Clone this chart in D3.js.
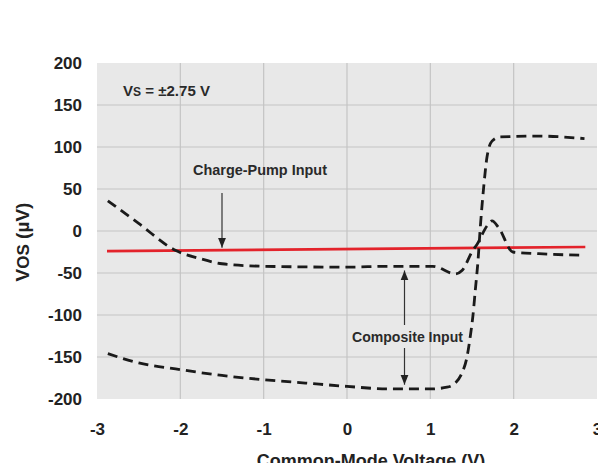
<!DOCTYPE html>
<html>
<head>
<meta charset="utf-8">
<script src="https://cdn.jsdelivr.net/npm/d3@7"></script>
<style>
  html, body { margin: 0; padding: 0; background: #fff; }
  svg { display: block; }
  text { font-family: "Liberation Sans", Arial, Helvetica, sans-serif; font-weight: bold; fill: #222; }
  .note { font-family: "Liberation Sans", Arial, sans-serif; fill: #2a2a2a; }
</style>
</head>
<body>
<svg id="chart" width="598" height="463"></svg>
<script>
// Offset voltage vs. common-mode voltage, Vs = ±2.75 V
const xTicks = [-3, -2, -1, 0, 1, 2, 3];
const yTicks = [-200, -150, -100, -50, 0, 50, 100, 150, 200];

// Charge-pump input (solid red)
const chargePumpX = [-2.88, 2.86];
const chargePumpY = [-24, -19];

// Composite input, upper branch (dashed)
const compUpperX = [-2.87, -2.5, -2.06, -1.76, -1.5, -1.0, 0.0, 0.5, 1.03, 1.30, 1.38, 1.51, 1.56, 1.68, 1.74, 1.82, 1.99, 2.3, 2.85];
const compUpperY = [36, 9, -23, -33, -39, -42, -43, -42, -42, -51, -47, -23, -16, 6, 12, 4, -25, -27, -29];

// Composite input, lower branch (dashed)
const compLowerX = [-2.87, -2.5, -2.0, -1.5, -1.0, -0.5, 0.0, 0.5, 1.0, 1.2, 1.3, 1.38, 1.44, 1.48, 1.51, 1.54, 1.57, 1.60, 1.64, 1.68, 1.74, 1.84, 2.3, 2.85];
const compLowerY = [-146, -157, -165, -172, -177, -181, -185, -188, -188, -186, -181, -169, -150, -125, -102, -70, -38, 5, 52, 88, 107, 112, 113, 110];

const svg = d3.select("#chart");
const plotL = 97, plotR = 597, plotT = 63, plotB = 399;

const x = d3.scaleLinear().domain([-3, 3]).range([plotL, plotR]);
const y = d3.scaleLinear().domain([-200, 200]).range([plotB, plotT]);

// plot panel
svg.append("rect")
  .attr("x", plotL).attr("y", plotT)
  .attr("width", plotR - plotL).attr("height", plotB - plotT)
  .attr("fill", "#e8e8e8");

// grid
svg.append("g").selectAll("line").data(xTicks.slice(1, -1)).join("line")
  .attr("x1", d => x(d)).attr("x2", d => x(d))
  .attr("y1", plotT).attr("y2", plotB)
  .attr("stroke", "#c4c4c4").attr("stroke-width", 1.2);
svg.append("g").selectAll("line").data(yTicks.slice(1, -1)).join("line")
  .attr("x1", plotL).attr("x2", plotR)
  .attr("y1", d => y(d)).attr("y2", d => y(d))
  .attr("stroke", "#c4c4c4").attr("stroke-width", 1.2);

// axes (labels only, plain hyphen for negatives)
const fmt = d => String(d);
const yAxis = svg.append("g")
  .attr("transform", `translate(${plotL},0)`)
  .call(d3.axisLeft(y).tickValues(yTicks).tickFormat(fmt).tickSize(0).tickPadding(15));
yAxis.select(".domain").remove();
yAxis.selectAll("text").style("font-size", "17px").attr("font-weight", "bold").attr("fill", "#222");

const xAxis = svg.append("g")
  .attr("transform", `translate(0,${plotB})`)
  .call(d3.axisBottom(x).tickValues(xTicks).tickFormat(fmt).tickSize(0).tickPadding(24));
xAxis.select(".domain").remove();
xAxis.selectAll("text").style("font-size", "17px").attr("font-weight", "bold").attr("fill", "#222");

// series
const line = d3.line().x(d => x(d[0])).y(d => y(d[1])).curve(d3.curveMonotoneX);
const zip = (a, b) => a.map((v, i) => [v, b[i]]);

svg.append("path")
  .datum(zip(chargePumpX, chargePumpY))
  .attr("d", d3.line().x(d => x(d[0])).y(d => y(d[1])))
  .attr("fill", "none").attr("stroke", "#e3232b").attr("stroke-width", 2.6);

[zip(compUpperX, compUpperY), zip(compLowerX, compLowerY)].forEach(pts => {
  svg.append("path")
    .datum(pts)
    .attr("d", line)
    .attr("fill", "none").attr("stroke", "#1a1a1a")
    .attr("stroke-width", 2.8).attr("stroke-dasharray", "10,6");
});

// arrows
const defs = svg.append("defs");
defs.append("marker")
  .attr("id", "head").attr("viewBox", "0 0 10 10")
  .attr("refX", 10).attr("refY", 5)
  .attr("markerWidth", 10).attr("markerHeight", 10)
  .attr("markerUnits", "userSpaceOnUse")
  .attr("orient", "auto")
  .append("path").attr("d", "M0,1 L10,5 L0,9 Z").attr("fill", "#222");

function arrow(x0, y0, x1, y1) {
  svg.append("line")
    .attr("x1", x0).attr("y1", y0).attr("x2", x1).attr("y2", y1)
    .attr("stroke", "#333").attr("stroke-width", 1.2)
    .attr("marker-end", "url(#head)");
}
arrow(x(-1.5), 193, x(-1.5), y(-20));
arrow(x(0.69), 325, x(0.69), y(-47));
arrow(x(0.69), 348, x(0.69), y(-183));

// annotations (condensed bold labels)
const vs = svg.append("text").attr("class", "note")
  .attr("x", 123).attr("y", 96)
  .attr("textLength", 87).attr("lengthAdjust", "spacingAndGlyphs")
  .style("font-size", "15px");
vs.append("tspan").text("V");
vs.append("tspan").text("S").style("font-size", "12px");
vs.append("tspan").text(" = ±2.75 V");

svg.append("text").attr("class", "note")
  .attr("x", 193).attr("y", 175)
  .attr("textLength", 134).attr("lengthAdjust", "spacingAndGlyphs")
  .style("font-size", "15px").text("Charge-Pump Input");

svg.append("text").attr("class", "note")
  .attr("x", 352).attr("y", 342)
  .attr("textLength", 111).attr("lengthAdjust", "spacingAndGlyphs")
  .style("font-size", "15px").text("Composite Input");

// axis titles
const yt = svg.append("text")
  .attr("transform", "translate(29,242) rotate(-90)")
  .attr("text-anchor", "middle")
  .style("font-size", "19px");
yt.append("tspan").text("V");
yt.append("tspan").text("OS").style("font-size", "17px");
yt.append("tspan").text(" (µV)");

svg.append("text")
  .attr("x", 371).attr("y", 467).attr("text-anchor", "middle")
  .style("font-size", "18px").text("Common-Mode Voltage (V)");
</script>
</body>
</html>
